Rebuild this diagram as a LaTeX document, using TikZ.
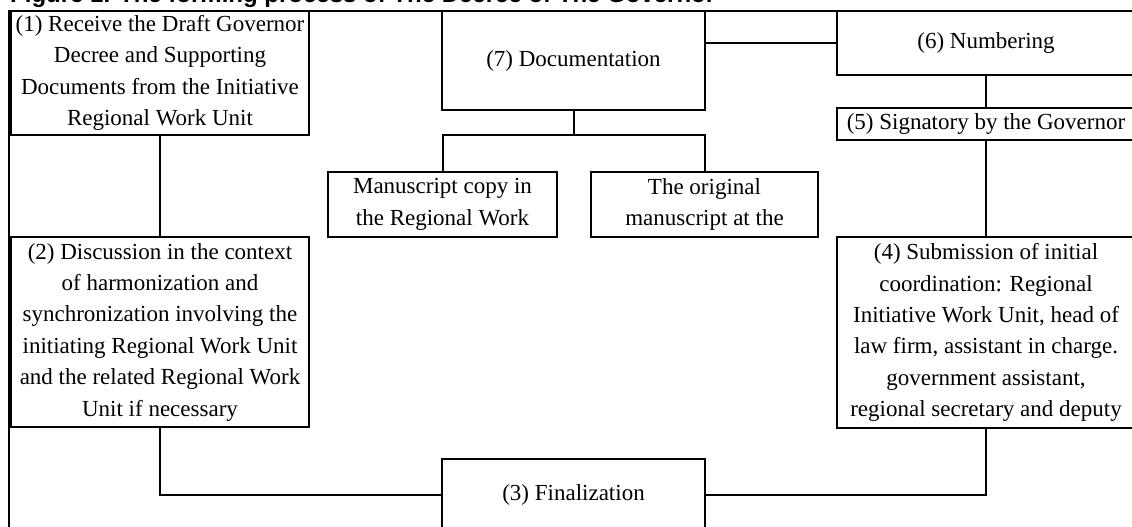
\documentclass[tikz,border=0pt]{standalone}
\usepackage{fontspec}
\setmainfont{Liberation Serif}
\newfontfamily\titlefont{Liberation Sans}
\begin{document}
\begin{tikzpicture}[x=1pt,y=-1pt,
  boxst/.style={draw, line width=2.2pt, inner sep=0pt, align=center,
    font=\fontsize{23}{31.4}\selectfont},
  link/.style={line width=2pt}]
\useasboundingbox[fill=white] (0,0) rectangle (1132,527);
% cut-off title
\node[anchor=base west, inner sep=0pt, font=\titlefont\bfseries\fontsize{24}{28}\selectfont] (title) at (10,2.5) {Figure 1. The forming process of The Decree of The Governor};
% frame
\draw[link] (8.5,527) -- (8.5,11) -- (1132,11);
% boxes
\node[boxst, minimum width=298, minimum height=124] (b1) at (160,73)
  {(1) Receive the Draft Governor\\Decree and Supporting\\Documents from the Initiative\\Regional Work Unit};
\node[boxst, minimum width=298, minimum height=190] (b2) at (160,332)
  {(2) Discussion in the context\\of harmonization and\\synchronization involving the\\initiating Regional Work Unit\\and the related Regional Work\\Unit if necessary};
\node[boxst, minimum width=263, minimum height=72] (b3) at (573.5,495)
  {(3) Finalization};
\node[boxst, minimum width=298, minimum height=191] (b4) at (986,332.5)
  {(4) Submission of initial\\coordination: Regional\\Initiative Work Unit, head of\\law firm, assistant in charge.\\government assistant,\\regional secretary and deputy};
\node[boxst, minimum width=298, minimum height=32] (b5) at (986,124)
  {(5) Signatory by the Governor};
\node[boxst, minimum width=298, minimum height=64] (b6) at (986,43)
  {(6) Numbering};
\node[boxst, minimum width=263, minimum height=99] (b7) at (573.5,60.5)
  {(7) Documentation};
\node[boxst, minimum width=229, minimum height=65] (c1) at (442.5,204.5)
  {Manuscript copy in\\the Regional Work};
\node[boxst, minimum width=227, minimum height=65] (c2) at (704.5,204.5)
  {The original\\manuscript at the};
% connectors
\draw[link] (b1.south) -- (b2.north);
\draw[link] (b2.south) |- (b3.west);
\draw[link] (b3.east) -| (b4.south);
\draw[link] (b4.north) -- (b5.south);
\draw[link] (b5.north) -- (b6.south);
\draw[link] (b6.west) -- (b6.west -| b7.east);
\coordinate (br) at (573.5,135);
\draw[link] (b7.south) -- (br);
\draw[link] (br) -| (c1.north);
\draw[link] (br) -| (c2.north);
\end{tikzpicture}
\end{document}
